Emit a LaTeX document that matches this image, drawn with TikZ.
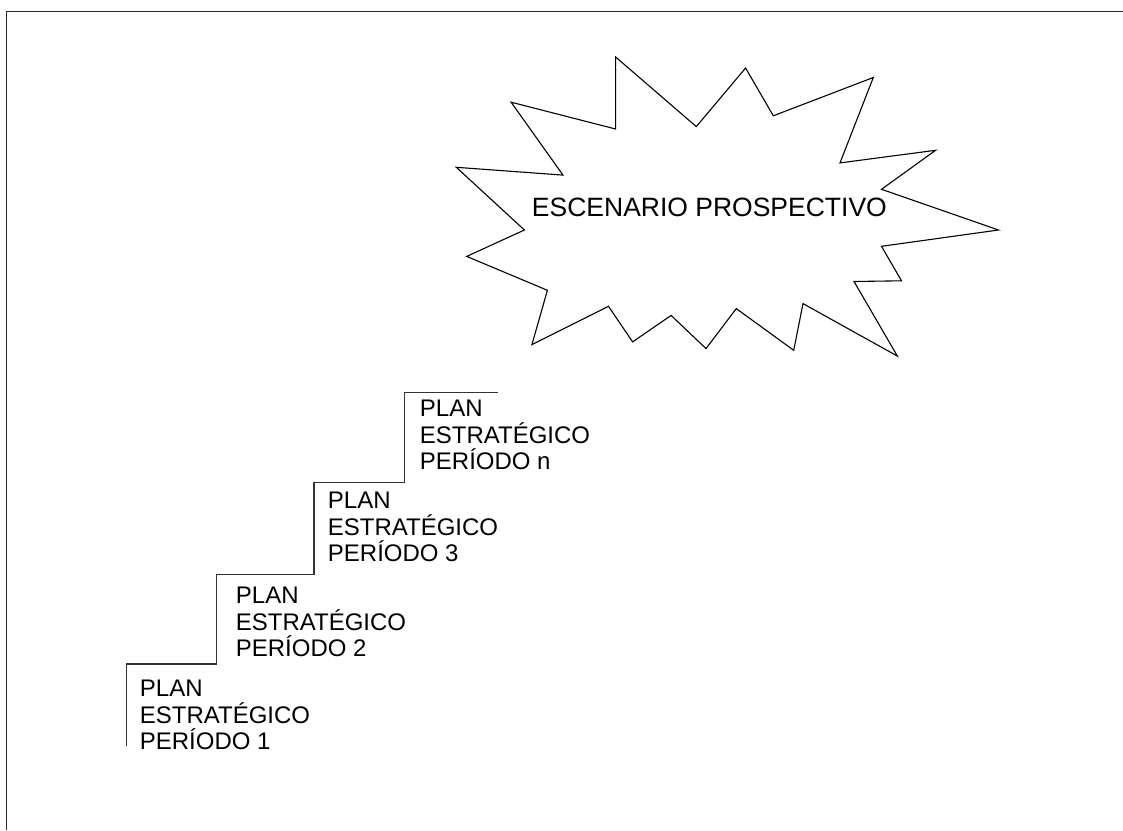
\documentclass[tikz,border=0pt]{standalone}
\usepackage{fontspec}
\setmainfont{Liberation Sans}
\usepackage{tikz}
\usetikzlibrary{calc}
\tikzset{plan/.style={anchor=north west, inner sep=0, align=left, font=\fontsize{12}{13.25}\selectfont}}
\tikzset{burst/.style={black, line width=.55pt, line join=miter}}

\begin{document}
\begin{tikzpicture}[x=0.5pt,y=-0.5pt]
\useasboundingbox (0,0) rectangle (1123,830);
\draw[black!85,line width=.7pt] (6.5,830)--(6.5,11.5)--(1123,11.5);

\draw[burst] (615.6,57)--(696.3,126.6)--(745.6,68)--(773.3,115.8)--(873.3,77.5)--(840,162.9)
  --(935.6,150.3)--(881.5,189.3)--(998.5,230)--(881.5,246.3)--(901.5,280.8)--(854,281.5)
  --(897.4,356.1)--(803,303.6)--(793.7,350.3)--(736.3,308.6)--(706,348.6)--(671.1,315.4)
  --(632.6,341.9)--(608.5,306.3)--(531.9,344.6)--(547.4,290.3)--(466.7,256.4)--(524.4,230)
  --(456.3,167.3)--(563,175.1)--(511.1,102.2)--(615.6,129)--cycle;
\node[anchor=base, inner sep=0, font=\fontsize{13.25}{15}\selectfont] (escenario) at (709.4,216.7) {ESCENARIO PROSPECTIVO};

\draw[black!80,line width=.65pt] (126.3,745.7)--(126.3,664)--(216.7,664)--(216.7,574.7)--(314,574.7)
  --(314,482.7)--(404.3,482.7)--(404.3,392.3)--(497.7,392.3);
\foreach \n/\x/\y in {1/139.5/680, 2/235.5/586.7, 3/327.5/491.7, n/419.5/400} {
  \node[plan] (p\n) at (\x,\y) {PLAN\\ESTRATÉGICO\\PERÍODO \n};
}
\end{tikzpicture}
\end{document}
